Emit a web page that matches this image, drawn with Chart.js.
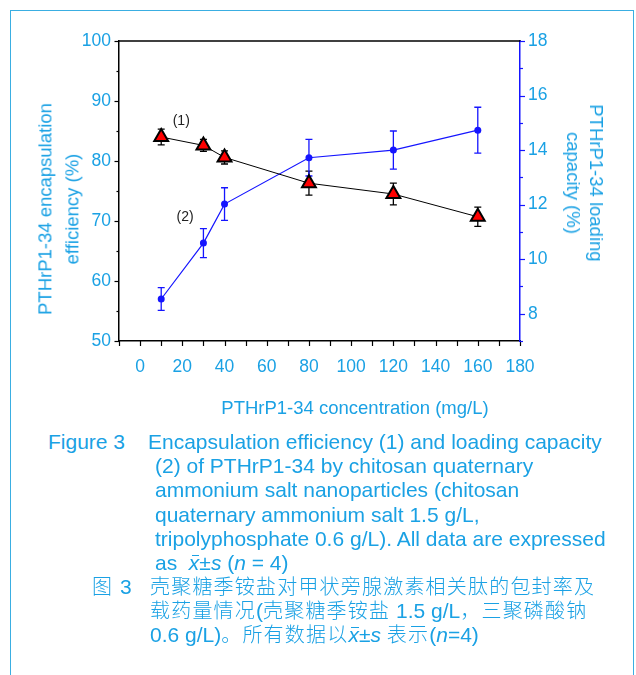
<!DOCTYPE html>
<html><head><meta charset="utf-8">
<script src="https://cdn.jsdelivr.net/npm/chart.js@4/dist/chart.umd.min.js"></script>
<style>
html,body{margin:0;padding:0;background:#fff;}
body{width:636px;height:675px;position:relative;overflow:hidden;font-family:"Liberation Sans",Arial,sans-serif;color:#1aa1e4;}
#frame{position:absolute;left:10px;top:10px;width:624px;height:720px;border:1.5px solid #3aaee2;box-sizing:border-box;}
#cv{position:absolute;left:0;top:0;}
.t{position:absolute;white-space:nowrap;}
.ax{font-size:18.5px;text-align:center;}
.cap{font-size:21px;height:24px;line-height:24px;}
.zh{font-family:"Liberation Sans","Noto Sans CJK SC",sans-serif;font-size:20px;font-weight:300;height:24px;line-height:24px;letter-spacing:1.2px;}
.la{letter-spacing:0;font-size:21px;font-weight:400;}
.xb{position:relative;font-style:italic;display:inline-block;}
.xb::before{content:"";position:absolute;left:3px;right:0;top:4px;border-top:1px solid currentColor;}
i{font-style:italic;}
</style></head>
<body>
<div id="frame"></div>
<canvas id="cv" width="636" height="400"></canvas>

<div class="t ax" style="left:59px;top:209px;line-height:26.6px;transform:translate(-50%,-50%) rotate(-90deg);">PTHrP1-34 encapsulation<br>efficiency (%)</div>
<div class="t ax" style="left:585px;top:183px;line-height:23px;transform:translate(-50%,-50%) rotate(90deg);">PTHrP1-34 loading<br>capacity (%)</div>
<div class="t ax" style="left:355px;top:408px;line-height:22px;transform:translate(-50%,-50%);">PTHrP1-34 concentration (mg/L)</div>

<div class="t cap" style="left:48px;top:430px;">Figure 3</div>
<div class="t cap" style="left:148px;top:430px;">Encapsulation efficiency (1) and loading capacity</div>
<div class="t cap" style="left:155px;top:454px;">(2) of PTHrP1-34 by chitosan quaternary</div>
<div class="t cap" style="left:155px;top:478px;">ammonium salt nanoparticles (chitosan</div>
<div class="t cap" style="left:155px;top:503px;">quaternary ammonium salt 1.5 g/L,</div>
<div class="t cap" style="left:155px;top:527px;">tripolyphosphate 0.6 g/L). All data are expressed</div>
<div class="t cap" style="left:155px;top:551px;">as &nbsp;<span class="xb">x</span>±<i>s</i> (<i>n</i> = 4)</div>
<div class="t zh" style="left:92px;top:575px;">图 <span class="la">3</span></div>
<div class="t zh" style="left:150px;top:575px;">壳聚糖季铵盐对甲状旁腺激素相关肽的包封率及</div>
<div class="t zh" style="left:150px;top:599px;">载药量情况<span class="la">(</span>壳聚糖季铵盐<span class="la"> 1.5 g/L</span>，三聚磷酸钠</div>
<div class="t zh" style="left:150px;top:623px;"><span class="la">0.6 g/L)</span>。所有数据以<span class="la"><span class="xb">x</span>±<i>s</i> </span>表示<span class="la">(<i>n</i>=4)</span></div>

<script>
// ---- data ----
const concentrations = [10, 30, 40, 80, 120, 160];
const efficiency = [84.0, 82.6, 80.6, 76.3, 74.5, 70.7];
const efficiencyErr = [1.3, 1.0, 1.1, 2.0, 1.8, 1.6];
const loading = [8.54, 10.59, 12.02, 13.72, 14.0, 14.73];
const loadingErr = [0.42, 0.53, 0.6, 0.67, 0.7, 0.84];
const seriesLabels = ['(1)', '(2)'];
const labelX = [19.5, 21.3];
const labelY = [86.7, 70.6];

const CYAN = '#1aa1e4';
const BLUE = '#1515ff';
Chart.defaults.font.family = '"Liberation Sans", Arial, sans-serif';

const errPlugin = {
  id: 'errbars',
  beforeDatasetsDraw(chart) {
    const ctx = chart.ctx, xs = chart.scales.x;
    chart.data.datasets.forEach(ds => {
      const ys = chart.scales[ds.yAxisID];
      ctx.save();
      ctx.strokeStyle = ds.errColor; ctx.lineWidth = 1.3;
      ds.data.forEach((p, j) => {
        const e = ds.errors[j];
        const px = xs.getPixelForValue(p.x);
        const t = ys.getPixelForValue(p.y + e), b = ys.getPixelForValue(p.y - e);
        ctx.beginPath();
        ctx.moveTo(px, t); ctx.lineTo(px, b);
        ctx.moveTo(px - 3.5, t); ctx.lineTo(px + 3.5, t);
        ctx.moveTo(px - 3.5, b); ctx.lineTo(px + 3.5, b);
        ctx.stroke();
      });
      ctx.restore();
    });
  }
};

const frameTicks = {
  id: 'frameTicks',
  afterDraw(chart) {
    const ctx = chart.ctx, a = chart.chartArea;
    const xs = chart.scales.x, yl = chart.scales.y, yr = chart.scales.y1;
    ctx.save();
    ctx.strokeStyle = '#000'; ctx.lineWidth = 1.5;
    ctx.beginPath(); ctx.moveTo(a.left, a.top); ctx.lineTo(a.right + 0.75, a.top); ctx.stroke();
    ctx.lineWidth = 1.2;
    xs.ticks.forEach(t => {
      const px = Math.round(xs.getPixelForValue(t.value)) + 0.5;
      ctx.beginPath(); ctx.moveTo(px, a.bottom); ctx.lineTo(px, a.bottom + 5); ctx.stroke();
    });
    yl.ticks.forEach(t => {
      const py = Math.round(yl.getPixelForValue(t.value)) + 0.5;
      const len = t.value % 10 === 0 ? 4.5 : 2.5;
      ctx.beginPath(); ctx.moveTo(a.left, py); ctx.lineTo(a.left - len, py); ctx.stroke();
    });
    ctx.strokeStyle = BLUE;
    yr.ticks.forEach(t => {
      const py = Math.round(yr.getPixelForValue(t.value)) + 0.5;
      const len = t.value % 2 === 0 ? 5 : 3;
      ctx.beginPath(); ctx.moveTo(a.right, py); ctx.lineTo(a.right + len, py); ctx.stroke();
    });
    // series labels
    ctx.fillStyle = '#222';
    ctx.font = '14px "Liberation Sans", Arial, sans-serif';
    ctx.textAlign = 'center'; ctx.textBaseline = 'middle';
    seriesLabels.forEach((s, i) => {
      ctx.fillText(s, xs.getPixelForValue(labelX[i]), yl.getPixelForValue(labelY[i]));
    });
    ctx.restore();
  }
};

new Chart(document.getElementById('cv'), {
  type: 'line',
  data: {
    datasets: [
      {
        label: 'Encapsulation efficiency',
        data: concentrations.map((x, i) => ({x, y: efficiency[i]})),
        errors: efficiencyErr, errColor: '#000',
        yAxisID: 'y',
        borderColor: '#000', borderWidth: 1,
        pointStyle: 'triangle', pointRadius: 8,
        pointBackgroundColor: '#ff0000', pointBorderColor: '#000', pointBorderWidth: 2,
        tension: 0, order: 0
      },
      {
        label: 'Loading capacity',
        data: concentrations.map((x, i) => ({x, y: loading[i]})),
        errors: loadingErr, errColor: BLUE,
        yAxisID: 'y1',
        borderColor: BLUE, borderWidth: 1.2,
        pointStyle: 'circle', pointRadius: 3.5,
        pointBackgroundColor: BLUE, pointBorderColor: BLUE, pointBorderWidth: 0,
        tension: 0, order: 1
      }
    ]
  },
  options: {
    responsive: false, animation: false, devicePixelRatio: 1,
    layout: {padding: {top: 41, left: 0, right: 0, bottom: 0}},
    plugins: {legend: {display: false}, tooltip: {enabled: false}},
    scales: {
      x: {
        type: 'linear', min: -10, max: 180,
        grid: {drawOnChartArea: false, drawTicks: false},
        border: {color: '#000', width: 1.5},
        ticks: {stepSize: 10, autoSkip: false, maxRotation: 0, color: CYAN, font: {size: 17.5}, padding: 16,
          callback: v => (v % 20 === 0 && v >= 0) ? String(v) : ''},
        afterFit: s => { s.height = 59; }
      },
      y: {
        type: 'linear', position: 'left', min: 50, max: 100,
        grid: {drawOnChartArea: false, drawTicks: false},
        border: {color: '#000', width: 1.5},
        ticks: {stepSize: 5, autoSkip: false, color: CYAN, font: {size: 17.5}, padding: 8,
          callback: v => v % 10 === 0 ? String(v) : ''},
        afterFit: s => { s.width = 119; }
      },
      y1: {
        type: 'linear', position: 'right', min: 7, max: 18,
        grid: {drawOnChartArea: false, drawTicks: false},
        border: {color: BLUE, width: 1.5},
        ticks: {stepSize: 1, autoSkip: false, color: CYAN, font: {size: 17.5}, padding: 8,
          callback: v => v % 2 === 0 ? String(v) : ''},
        afterFit: s => { s.width = 116; }
      }
    }
  },
  plugins: [errPlugin, frameTicks]
});
</script>
</body></html>
